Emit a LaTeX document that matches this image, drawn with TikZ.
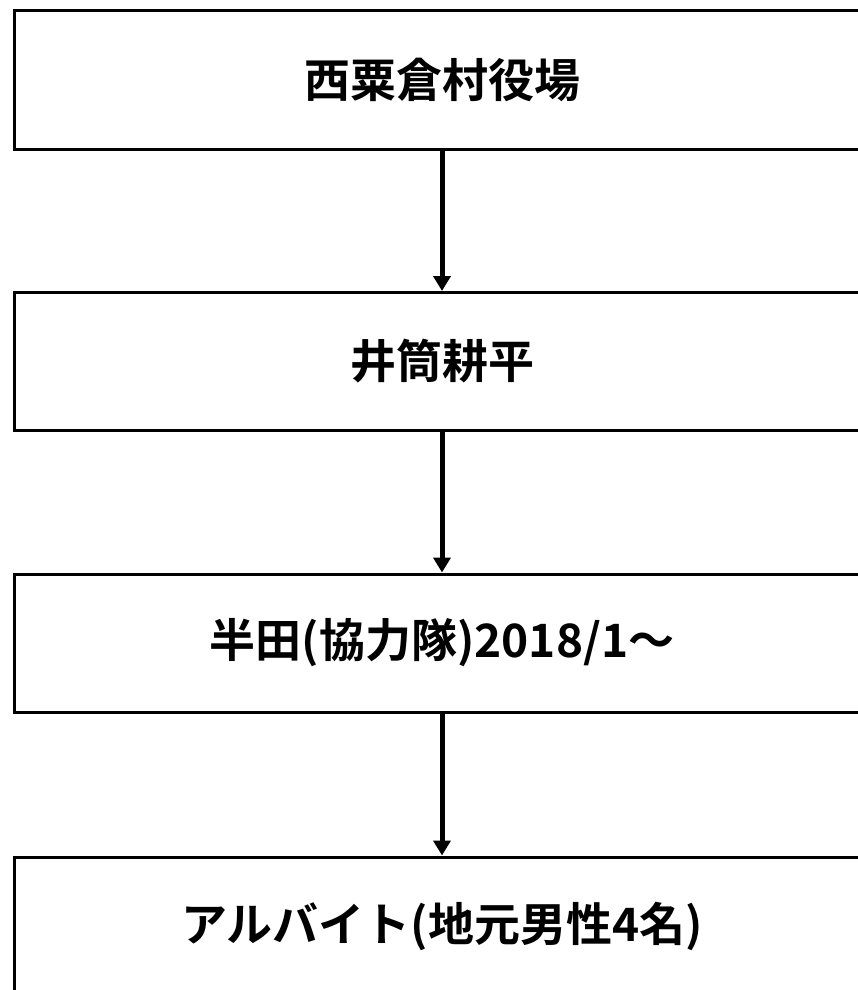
\documentclass[tikz,border=0pt]{standalone}
\usepackage{fontspec}
\newfontfamily\jpfont{Noto Sans CJK JP}[BoldFont={Noto Sans CJK JP Bold}]
\usetikzlibrary{arrows.meta}
\begin{document}
\begin{tikzpicture}[x=1pt,y=-1pt,
  box/.style={draw=black,line width=3pt,minimum width=856pt,minimum height=138pt,inner sep=0pt,
    font=\jpfont\bfseries\fontsize{46pt}{52pt}\selectfont},
  arr/.style={line width=5pt,-{Triangle[width=17pt,length=15pt]}}]
\useasboundingbox (0,0) rectangle (858,990);
\fill[white] (0,0) rectangle (858,990);
\clip (0,0) rectangle (858,990);
\node[box] (b1) at (442,80) {西粟倉村役場};
\node[box] (b2) at (442,361.5) {井筒耕平};
\node[box] (b3) at (442,643) {半田(協力隊)2018/1～};
\node[box] (b4) at (442,926) {アルバイト(地元男性4名)};
\draw[arr] (b1.south) -- (b2.north);
\draw[arr] (b2.south) -- (b3.north);
\draw[arr] (b3.south) -- (b4.north);
\end{tikzpicture}
\end{document}
